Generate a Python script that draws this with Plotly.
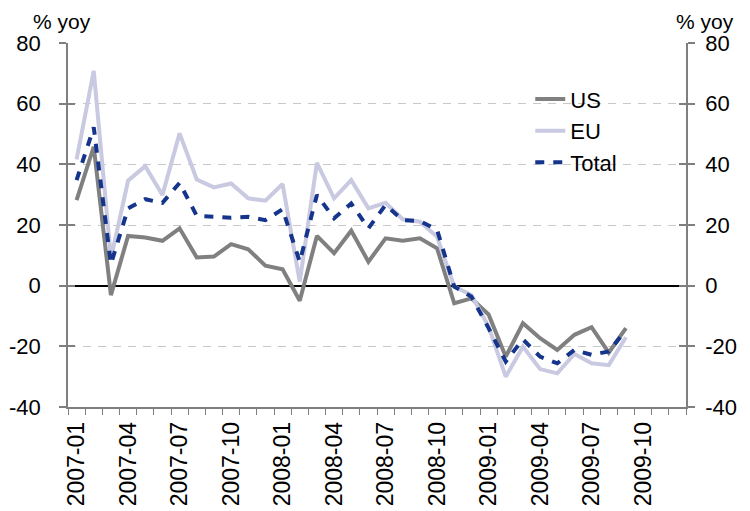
import plotly.graph_objects as go

months = ["2007-01", "2007-02", "2007-03", "2007-04", "2007-05", "2007-06",
          "2007-07", "2007-08", "2007-09", "2007-10", "2007-11", "2007-12",
          "2008-01", "2008-02", "2008-03", "2008-04", "2008-05", "2008-06",
          "2008-07", "2008-08", "2008-09", "2008-10", "2008-11", "2008-12",
          "2009-01", "2009-02", "2009-03", "2009-04", "2009-05", "2009-06",
          "2009-07", "2009-08", "2009-09", "2009-10", "2009-11", "2009-12"]

us = [28.2, 45.8, -3.1, 16.4, 15.9, 14.8, 18.9, 9.3, 9.6, 13.7, 12.0, 6.6,
      5.4, -5.0, 16.4, 10.7, 18.1, 7.9, 15.6, 14.8, 15.6, 12.3, -5.8, -4.2,
      -9.5, -23.4, -12.4, -17.3, -21.2, -16.2, -13.7, -22.1, -14.0]
eu = [41.6, 70.8, 9.0, 34.6, 39.4, 29.9, 50.2, 35.0, 32.4, 33.7, 28.8, 28.0,
      33.5, 1.3, 40.5, 28.8, 34.8, 25.5, 27.3, 21.9, 21.1, 16.1, -0.3, -3.1,
      -13.5, -30.0, -20.1, -27.5, -28.9, -22.5, -25.6, -26.2, -17.0]
total = [34.8, 52.2, 7.1, 25.5, 28.5, 27.3, 33.9, 23.0, 22.7, 22.4, 22.7, 21.6,
         25.2, 7.9, 29.9, 22.2, 27.1, 18.9, 26.6, 21.6, 21.3, 18.4, -0.3, -3.6,
         -14.0, -25.0, -17.7, -23.4, -25.6, -21.2, -22.8, -21.7, -14.6]

label_idx = list(range(0, len(months), 3))
label_text = [months[i] for i in label_idx]
yticks = [-40, -20, 0, 20, 40, 60, 80]
ytext = [str(v) for v in yticks]

FONT = "Liberation Sans, Arial, sans-serif"
AXIS = "#7f7f7f"

fig = go.Figure()
x = list(range(len(us)))
fig.add_trace(go.Scatter(x=x, y=us, name="US", mode="lines",
                         line=dict(color="#808080", width=4)))
fig.add_trace(go.Scatter(x=x, y=eu, name="EU", mode="lines",
                         line=dict(color="#c9c9e1", width=4)))
fig.add_trace(go.Scatter(x=x, y=total, name="Total", mode="lines",
                         line=dict(color="#15358c", width=4, dash="9px,9px")))
# empty traces so that the overlay axes are drawn
for ax in ["y2", "y3", "y4"]:
    fig.add_trace(go.Scatter(x=[None], y=[None], yaxis=ax, showlegend=False,
                             hoverinfo="skip"))

yrange = [-40, 80]
common = dict(range=yrange, tickmode="array", tickvals=yticks, ticktext=ytext,
              ticklen=7, tickcolor=AXIS, tickwidth=1.5, automargin=False,
              showgrid=False, zeroline=False)
# page body has an 8px margin, so the figure is a bit smaller than the window
fig.update_layout(
    width=742, height=503,
    margin=dict(l=60, r=64, t=35, b=104, autoexpand=False),
    plot_bgcolor="white", paper_bgcolor="white",
    font=dict(family=FONT, size=22, color="black"),
    showlegend=True,
    legend=dict(x=0.748, y=0.903, xanchor="left", yanchor="top",
                bgcolor="rgba(0,0,0,0)", font=dict(size=22),
                tracegroupgap=0),
    xaxis=dict(range=[-0.5, len(months) - 0.5], tickmode="array",
               tickvals=label_idx, ticktext=label_text, tickangle=-90,
               tickfont=dict(size=23), ticklabelstandoff=4,
               ticks="", showgrid=False, zeroline=False, automargin=False,
               showline=True, linecolor=AXIS, linewidth=1.5,
               minor=dict(tickmode="array",
                          tickvals=[i - 0.5 for i in range(len(months) + 1)],
                          ticks="outside", ticklen=6, tickcolor=AXIS,
                          tickwidth=1, showgrid=False)),
    yaxis=dict(common, ticks="outside", ticklabelstandoff=14,
               showline=True, linecolor=AXIS,
               linewidth=1.5, showgrid=True, gridcolor="#c8c8c8",
               griddash="8px,7px", gridwidth=1,
               zeroline=True, zerolinecolor="black", zerolinewidth=1.5),
    yaxis2=dict(common, overlaying="y", side="right", ticks="outside",
                ticklabelstandoff=6,
                showline=True, linecolor=AXIS, linewidth=1.5),
    yaxis3=dict(common, overlaying="y", side="left", ticks="inside",
                showticklabels=False),
    yaxis4=dict(common, overlaying="y", side="right", ticks="inside",
                showticklabels=False),
)

fig.add_annotation(text="% yoy", xref="paper", yref="paper", x=-0.009, y=1.0,
                   yshift=8, xanchor="center", yanchor="bottom",
                   showarrow=False, font=dict(size=21))
fig.add_annotation(text="% yoy", xref="paper", yref="paper", x=1.031, y=1.0,
                   yshift=8, xanchor="center", yanchor="bottom",
                   showarrow=False, font=dict(size=21))

fig.write_html("out.html")
